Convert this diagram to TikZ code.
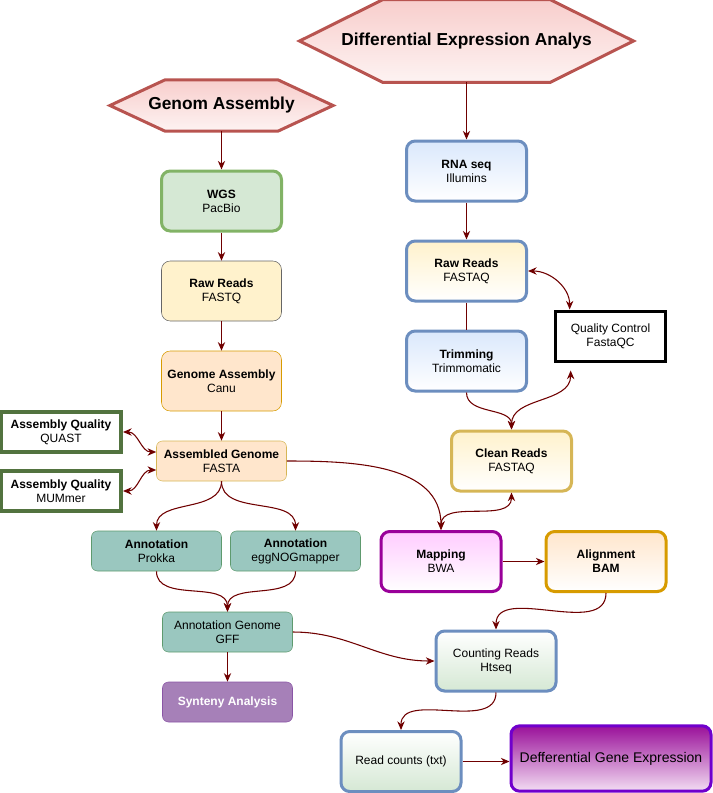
\documentclass[tikz,border=0pt]{standalone}
\usepackage{fontspec}
\setmainfont{Liberation Sans}
\definecolor{edge}{HTML}{6F0000}
\definecolor{hexred}{HTML}{B85450}
\definecolor{hexfill}{HTML}{F8CECC}
\definecolor{wgsfill}{HTML}{D5E8D4}
\definecolor{wgsline}{HTML}{82B366}
\definecolor{yellowfill}{HTML}{FFF2CC}
\definecolor{yellowline}{HTML}{D6B656}
\definecolor{orangefill}{HTML}{FFE6CC}
\definecolor{orangeline}{HTML}{D79B00}
\definecolor{qualline}{HTML}{52733F}
\definecolor{annofill}{HTML}{9AC7BF}
\definecolor{annoline}{HTML}{5E9A6E}
\definecolor{synfill}{HTML}{A680B8}
\definecolor{synline}{HTML}{8A55A6}
\definecolor{bluefill}{HTML}{DAE8FC}
\definecolor{blueline}{HTML}{6C8EBF}
\definecolor{pinkfill}{HTML}{FFCCFF}
\definecolor{mapline}{HTML}{990099}
\definecolor{dgetop}{HTML}{9A119A}
\definecolor{dgebottom}{HTML}{F3DDF3}
\definecolor{dgeline}{HTML}{7000CC}
\usetikzlibrary{positioning,calc,arrows.meta,backgrounds}

\begin{document}
\begin{tikzpicture}[x=0.75pt,y=-0.75pt,
    >={Stealth[length=6.5pt,width=5.5pt]},
    conn/.style={edge,line width=0.8pt},
    hexlabel/.style={align=center,font=\bfseries\fontsize{13}{15}\selectfont},
    hexpath/.style={draw=hexred,line width=2.25pt,top color=hexfill,bottom color=hexfill!25},
    tallbox/.style={draw,rounded corners=6.5pt,align=center,minimum width=90pt,minimum height=45pt,inner sep=2pt,font=\fontsize{9}{10.5}\selectfont},
    lowbox/.style={tallbox,rounded corners=4.5pt,minimum width=97.5pt,minimum height=30pt},
    squarebox/.style={draw,align=center,inner sep=2pt,font=\fontsize{9}{10.5}\selectfont},
    thickline/.style={line width=2.25pt}]
  \useasboundingbox (0,0) rectangle (713,793);

  \node[hexlabel,minimum width=250pt,minimum height=61.5pt] (dea) at (466.5,41) {Differential Expression Analys};
  \node[hexlabel,minimum width=167pt,minimum height=38pt] (ga) at (221.5,105.5) {Genom Assembly};
  \begin{scope}[on background layer]
    \path[hexpath] (dea.west) -- ($(dea.north west)+(83,0)$) -- ($(dea.north east)-(83,0)$)
      -- (dea.east) -- ($(dea.south east)-(83,0)$) -- ($(dea.south west)+(83,0)$) -- cycle;
    \path[hexpath] (ga.west) -- ($(ga.north west)+(55,0)$) -- ($(ga.north east)-(55,0)$)
      -- (ga.east) -- ($(ga.south east)-(55,0)$) -- ($(ga.south west)+(55,0)$) -- cycle;
  \end{scope}

  \node[tallbox,thickline,draw=wgsline,fill=wgsfill] (wgs) at (221.5,201) {\textbf{WGS}\\PacBio};
  \node[tallbox,draw=black!60,fill=yellowfill] (rrq) at (221.5,291) {\textbf{Raw Reads}\\FASTQ};
  \node[tallbox,draw=orangeline,fill=orangefill] (gac) at (221.5,381) {\textbf{Genome Assembly}\\Canu};
  \node[lowbox,draw=yellowline,fill=orangefill] (agf) at (221.5,461) {\textbf{Assembled Genome}\\FASTA};
  \node[squarebox,line width=3pt,draw=qualline,fill=white,minimum width=90pt,minimum height=30pt] (quast) at (61,432) {\textbf{Assembly Quality}\\QUAST};
  \node[squarebox,line width=3pt,draw=qualline,fill=white,minimum width=90pt,minimum height=30pt] (mummer) at (61,491) {\textbf{Assembly Quality}\\MUMmer};
  \node[lowbox,draw=annoline,fill=annofill] (prokka) at (156.5,551) {\textbf{Annotation}\\Prokka};
  \node[lowbox,draw=annoline,fill=annofill] (egg) at (295.5,551) {\textbf{Annotation}\\eggNOGmapper};
  \node[lowbox,draw=annoline,fill=annofill] (agff) at (227.5,632) {Annotation Genome\\GFF};
  \node[lowbox,draw=synline,fill=synfill,text=white,font=\bfseries\fontsize{9}{10.5}\selectfont] (syn) at (227.5,702) {Synteny Analysis};

  \node[tallbox,thickline,draw=blueline,top color=bluefill,bottom color=white] (rna) at (466.5,171) {\textbf{RNA seq}\\Illumins};
  \node[tallbox,thickline,draw=blueline,top color=yellowfill,bottom color=white] (rrfa) at (466.5,271) {\textbf{Raw Reads}\\FASTAQ};
  \node[tallbox,thickline,draw=blueline,top color=bluefill,bottom color=white] (trim) at (466.5,361) {\textbf{Trimming}\\Trimmomatic};
  \node[squarebox,thickline,draw=black,fill=white,minimum width=83pt,minimum height=37.5pt] (qc) at (610.5,336) {Quality Control\\FastaQC};
  \node[tallbox,thickline,draw=yellowline,top color=yellowfill,bottom color=white] (clean) at (511.5,461) {\textbf{Clean Reads}\\FASTAQ};
  \node[tallbox,thickline,draw=mapline,top color=pinkfill,bottom color=white] (map) at (441,561.5) {\textbf{Mapping}\\BWA};
  \node[tallbox,thickline,draw=orangeline,top color=orangefill,bottom color=white] (align) at (606,561.5) {\textbf{Alignment}\\\textbf{BAM}};
  \node[tallbox,thickline,draw=blueline,top color=white,bottom color=wgsfill] (count) at (496,661) {Counting Reads\\Htseq};
  \node[tallbox,thickline,draw=blueline,top color=white,bottom color=wgsfill] (rc) at (401,761.5) {Read counts (txt)};
  \node[tallbox,thickline,draw=dgeline,top color=dgetop,bottom color=dgebottom,minimum width=150pt,minimum height=49pt,font=\fontsize{10.5}{12}\selectfont] (dge) at (611,758.5) {Defferential Gene Expression};

  \draw[conn,->] (dea.south) -- (rna.north);
  \draw[conn,->] (ga.south) -- (wgs.north);
  \draw[conn,->] (wgs) -- (rrq);
  \draw[conn,->] (rrq) -- (gac);
  \draw[conn,->] (gac) -- (agf);
  \draw[conn,<->] (quast.east) to[out=0,in=180] ([yshift=6.75pt]agf.west);
  \draw[conn,<->] (mummer.east) to[out=0,in=180] ([yshift=-6.75pt]agf.west);
  \draw[conn,->] (agf.south) to[out=-90,in=90] (prokka.north);
  \draw[conn,->] (agf.south) to[out=-90,in=90] (egg.north);
  \draw[conn,->] (prokka.south) to[out=-90,in=90] (agff.north);
  \draw[conn,->] (egg.south) to[out=-90,in=90] (agff.north);
  \draw[conn,->] (agff) -- (syn);
  \draw[conn,->] (agf.east) to[out=0,in=90] (map.north);
  \draw[conn,->] (agff.east) to[out=0,in=180] (count.west);

  \draw[conn,->] (rna) -- (rrfa);
  \draw[conn,<->] (rrfa.east) to[out=0,in=90] ([xshift=12pt]qc.north west);
  \draw[conn] (rrfa) -- (trim);
  \draw[conn,->] (trim.south) to[out=-90,in=90] (clean.north);
  \draw[conn,<->] (clean.north) to[out=90,in=-90] ([xshift=12.75pt,yshift=-6pt]qc.south west);
  \draw[conn,<->] (clean.south) to[out=-90,in=90] (map.north);
  \draw[conn,->] (map) -- (align);
  \draw[conn,->] (align.south) to[out=-90,in=90] (count.north);
  \draw[conn,->] (count.south) to[out=-90,in=90] (rc.north);
  \draw[conn,->] (rc.east) -- (rc.east -| dge.west);
\end{tikzpicture}
\end{document}
